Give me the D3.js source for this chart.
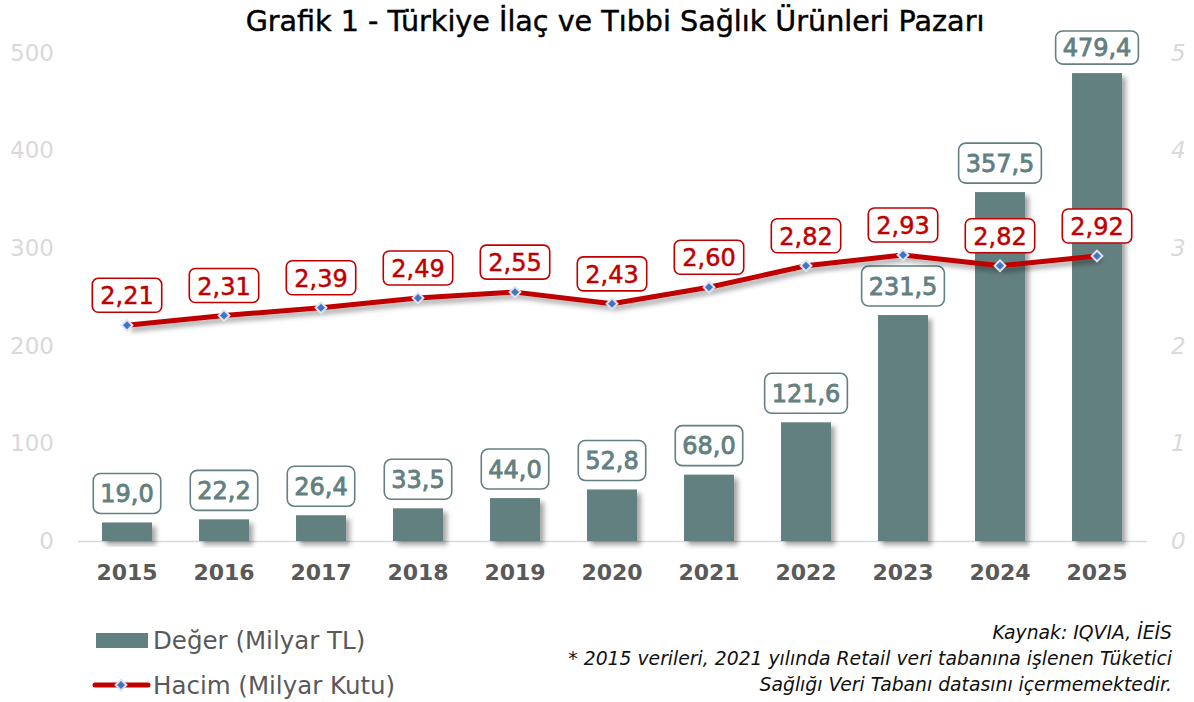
<!DOCTYPE html>
<html><head><meta charset="utf-8">
<script src="https://cdn.jsdelivr.net/npm/d3@7"></script>
<style>
html,body{margin:0;padding:0;background:#fff;}
text{font-family:"DejaVu Sans",Verdana,sans-serif;}
</style></head>
<body><svg id="c" width="1194" height="702"></svg>
<script>
const years = ["2015","2016","2017","2018","2019","2020","2021","2022","2023","2024","2025"];
const deger = [19.0,22.2,26.4,33.5,44.0,52.8,68.0,121.6,231.5,357.5,479.4];
const hacim = [2.21,2.31,2.39,2.49,2.55,2.43,2.60,2.82,2.93,2.82,2.92];
const leftTicks = [0,100,200,300,400,500];
const rightTicks = [0,1,2,3,4,5];
const title = "Grafik 1 - Türkiye İlaç ve Tıbbi Sağlık Ürünleri Pazarı";
const legendLabels = ["Değer (Milyar TL)","Hacim (Milyar Kutu)"];
const notes = ["Kaynak: IQVIA, İEİS","* 2015 verileri, 2021 yılında Retail veri tabanına işlenen Tüketici","Sağlığı Veri Tabanı datasını içermemektedir."];

const fmt = (v,d)=> v.toFixed(d).replace(".",",");
const svg = d3.select("#c");
const defs = svg.append("defs");
const f = defs.append("filter").attr("id","sh").attr("x","-20%").attr("y","-20%").attr("width","150%").attr("height","150%");
f.append("feDropShadow").attr("dx",4).attr("dy",4).attr("stdDeviation",2.5).attr("flood-color","#000").attr("flood-opacity",0.35);

const x = d3.scaleBand().domain(years).range([78.5,1145.5]).paddingInner(0.485).paddingOuter(0.2425);
const yL = d3.scaleLinear().domain([0,500]).range([541,53]);
const yR = d3.scaleLinear().domain([0,5]).range([541,53]);
const cx = d => x(d)+x.bandwidth()/2;

// title
svg.append("text").attr("x",615).attr("y",31).attr("text-anchor","middle")
  .attr("font-size",28.6).attr("fill","#000").attr("stroke","#000").attr("stroke-width",0.45).text(title);

// left axis
const axL = svg.append("g").attr("transform","translate(54,0)")
  .call(d3.axisLeft(yL).tickValues(leftTicks).tickSize(0).tickPadding(0));
axL.select(".domain").remove();
axL.selectAll("text").attr("font-size",23).attr("fill","#d9d9d9").attr("font-family","DejaVu Sans");
// right axis
const axR = svg.append("g").attr("transform","translate(1171,0)")
  .call(d3.axisRight(yR).tickValues(rightTicks).tickFormat(d3.format("d")).tickSize(0).tickPadding(0));
axR.select(".domain").remove();
axR.selectAll("text").attr("font-size",23).attr("fill","#d9d9d9").attr("font-style","italic").attr("font-family","DejaVu Sans");

// baseline
svg.append("line").attr("x1",78).attr("x2",1147).attr("y1",yL(0)+0.5).attr("y2",yL(0)+0.5)
  .attr("stroke","#d9d9d9").attr("stroke-width",1.5);

// bars
svg.append("g").selectAll("rect").data(years).join("rect")
  .attr("x",d=>x(d)).attr("width",x.bandwidth())
  .attr("y",(d,i)=>yL(deger[i])).attr("height",(d,i)=>yL(0)-yL(deger[i]))
  .attr("fill","#638080").attr("filter","url(#sh)");

// bar labels
const bl = svg.append("g").selectAll("g").data(years).join("g")
  .attr("transform",(d,i)=>`translate(${cx(d)},${yL(deger[i])-8})`);
bl.each(function(d,i){
  const g=d3.select(this);
  const top = Math.max(-41, 31-(yL(deger[i])-8));
  const t = g.append("text").attr("text-anchor","middle").attr("font-size",24)
    .attr("fill","#637f80").attr("stroke","#637f80").attr("stroke-width",0.85).text(fmt(deger[i],1));
  t.attr("y",(top-1)/2+8.5);
  const bb=t.node().getBBox();
  g.insert("rect","text").attr("x",bb.x-7).attr("width",bb.width+14).attr("y",top).attr("height",-1-top)
   .attr("rx",7).attr("fill","#fff").attr("stroke","#637f80").attr("stroke-width",1.6);
});

// x axis labels
const axB = svg.append("g").attr("transform",`translate(0,${yL(0)})`)
  .call(d3.axisBottom(x).tickSize(0).tickPadding(23));
axB.select(".domain").remove();
axB.selectAll("text").attr("font-size",22).attr("font-weight","bold").attr("fill","#595959").attr("font-family","DejaVu Sans");

// line
const line = d3.line().x((d,i)=>cx(years[i])).y(d=>yR(d));
svg.append("path").datum(hacim).attr("d",line).attr("fill","none")
  .attr("stroke","#c00000").attr("stroke-width",5).attr("stroke-linejoin","round").attr("filter","url(#sh)");
const diamond = d3.symbol().type(d3.symbolSquare).size(58);
svg.append("g").selectAll("path").data(hacim).join("path")
  .attr("d",diamond).attr("transform",(d,i)=>`translate(${cx(years[i])},${yR(d)}) rotate(45)`)
  .attr("fill","#4472c4").attr("stroke","#dce6f2").attr("stroke-width",2);

// line labels
const ll = svg.append("g").selectAll("g").data(hacim).join("g")
  .attr("transform",(d,i)=>`translate(${cx(years[i])},${yR(d)-12})`);
ll.append("text").attr("text-anchor","middle").attr("y",-9).attr("font-size",24)
  .attr("fill","#c00000").attr("stroke","#c00000").attr("stroke-width",0.5).text(d=>fmt(d,2));
ll.each(function(){
  const g=d3.select(this); const bb=g.select("text").node().getBBox();
  g.insert("rect","text").attr("x",bb.x-8).attr("width",bb.width+16).attr("y",-35).attr("height",34)
   .attr("rx",6).attr("fill","#fff").attr("stroke","#c00000").attr("stroke-width",1.6);
});

// legend
const lg = svg.append("g");
lg.append("rect").attr("x",96).attr("y",633).attr("width",52).attr("height",15).attr("fill","#638080");
lg.append("text").attr("x",153).attr("y",649).attr("font-size",24.5).attr("fill","#595959").text(legendLabels[0]);
lg.append("line").attr("x1",95).attr("x2",148).attr("y1",685).attr("y2",685).attr("stroke","#c00000").attr("stroke-width",5).attr("stroke-linecap","round");
lg.append("path").attr("d",diamond).attr("transform","translate(121,685) rotate(45)").attr("fill","#4472c4").attr("stroke","#dce6f2").attr("stroke-width",2);
lg.append("text").attr("x",153).attr("y",694).attr("font-size",24.5).attr("fill","#595959").text(legendLabels[1]);

// notes
svg.append("g").selectAll("text").data(notes).join("text")
  .attr("x",1172).attr("y",(d,i)=>639+i*26).attr("text-anchor","end").attr("font-style","italic")
  .attr("font-size",18.8).attr("fill","#111").text(d=>d);
</script></body></html>
